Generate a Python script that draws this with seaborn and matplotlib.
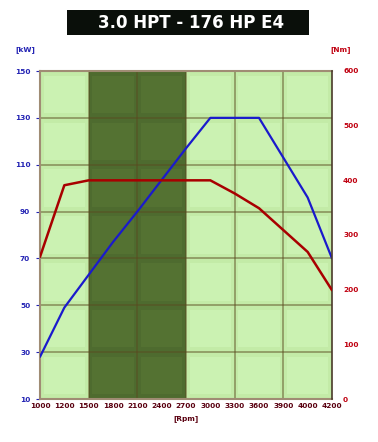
import matplotlib
matplotlib.use("Agg")
import matplotlib.pyplot as plt
from matplotlib.patches import Rectangle
import seaborn as sns
import pandas as pd

rpm_labels = ["1000", "1200", "1500", "1800", "2100", "2400", "2700",
              "3000", "3300", "3600", "3900", "4000", "4200"]
power_kw = [28, 49, 63, 77, 90, 103.5, 117, 130, 130, 130, 113, 96, 70]
torque_nm = [260, 391, 400, 400, 400, 400, 400, 400, 376, 349, 309, 269, 199]
kw_ticks = [10, 30, 50, 70, 90, 110, 130, 150]
nm_ticks = [0, 100, 200, 300, 400, 500, 600]
band_start, band_end = "1500", "2700"

sns.set_theme(style="white")
plt.rcParams['font.family'] = ['DejaVu Sans']

df = pd.DataFrame({"pos": list(range(len(rpm_labels))), "rpm": rpm_labels,
                   "kw": power_kw, "nm": torque_nm})

fig = plt.figure(figsize=(3.78, 4.42), dpi=100)
ax = fig.add_axes([40/378, 43/442, 292/378, 328/442])
n = len(rpm_labels)
ax.set_xlim(0, n - 1)
ax.set_ylim(kw_ticks[0], kw_ticks[-1])

light = "#c3eba7"
inner = "#cbf2b2"
dark = "#4e6b2f"
dark_inner = "#547232"
grid_c = "#5a4a20"
ax.set_facecolor(light)

b0 = rpm_labels.index(band_start)
b1 = rpm_labels.index(band_end)
xs = list(range(0, n, 2))
for i in range(len(xs) - 1):
    xa, xb = xs[i], xs[i + 1]
    in_band = xa >= b0 and xb <= b1
    if in_band:
        ax.add_patch(Rectangle((xa, kw_ticks[0]), xb - xa, kw_ticks[-1] - kw_ticks[0],
                               facecolor=dark, edgecolor="none", zorder=0.5))
    for j in range(len(kw_ticks) - 1):
        ya, yb = kw_ticks[j], kw_ticks[j + 1]
        ax.add_patch(Rectangle((xa + 0.15, ya + 2.0), (xb - xa) - 0.3, (yb - ya) - 4.0,
                               facecolor=dark_inner if in_band else inner,
                               edgecolor="none", zorder=0.6))

for x in xs[1:-1]:
    ax.axvline(x, color=grid_c, alpha=0.5, lw=1.3, zorder=1)
for y in kw_ticks[1:-1]:
    ax.axhline(y, color=grid_c, alpha=0.5, lw=1.3, zorder=1)

sns.lineplot(data=df, x="pos", y="kw", ax=ax, color="#1a1acc", lw=1.6, zorder=5)

ax2 = ax.twinx()
ax2.set_ylim(nm_ticks[0], nm_ticks[-1])
sns.lineplot(data=df, x="pos", y="nm", ax=ax2, color="#a80000", lw=1.8, zorder=5)

ax.set_xticks(df["pos"])
ax.set_xticklabels(rpm_labels)
ax.set_yticks(kw_ticks)
ax2.set_yticks(nm_ticks)
ax.set_xlabel("")
ax.set_ylabel("")
ax2.set_ylabel("")

ax.tick_params(axis="x", labelsize=5.3, colors="#5a0010", length=0, pad=3)
ax.tick_params(axis="y", labelsize=5.3, colors="#2323b4", length=3, width=0.8, pad=4)
ax2.tick_params(axis="y", labelsize=5.3, colors="#c00010", length=0, pad=8)
for lab in ax.get_xticklabels() + ax.get_yticklabels() + ax2.get_yticklabels():
    lab.set_fontweight("bold")
for t in ax.yaxis.get_ticklines():
    t.set_color("#6a6a50")

for side in ["left", "top", "bottom"]:
    ax.spines[side].set_color("#a08c74")
    ax.spines[side].set_linewidth(1.5)
ax.spines["right"].set_visible(False)
for side in ["left", "top", "bottom"]:
    ax2.spines[side].set_visible(False)
ax2.spines["right"].set_color("#4a3a2a")
ax2.spines["right"].set_linewidth(1.2)

fig.text(25/378, 1 - 50/442, "[kW]", color="#2323b4", fontsize=5.3, fontweight="bold",
         ha="center", va="center")
fig.text(341/378, 1 - 50/442, "[Nm]", color="#c00010", fontsize=5.3, fontweight="bold",
         ha="center", va="center")
fig.text(186/378, 1 - 419/442, "[Rpm]", color="#5a0010", fontsize=5.3, fontweight="bold",
         ha="center", va="center")

fig.patches.append(Rectangle((67/378, 1 - 35/442), 242/378, 25/442,
                             transform=fig.transFigure, facecolor="#0a0f0a",
                             edgecolor="none"))
fig.text(191/378, 1 - 22.5/442, "3.0 HPT - 176 HP E4", color="white", fontsize=12,
         fontweight="bold", family=["DejaVu Sans"], ha="center", va="center")

fig.savefig("out.png", dpi=100, facecolor="white")
